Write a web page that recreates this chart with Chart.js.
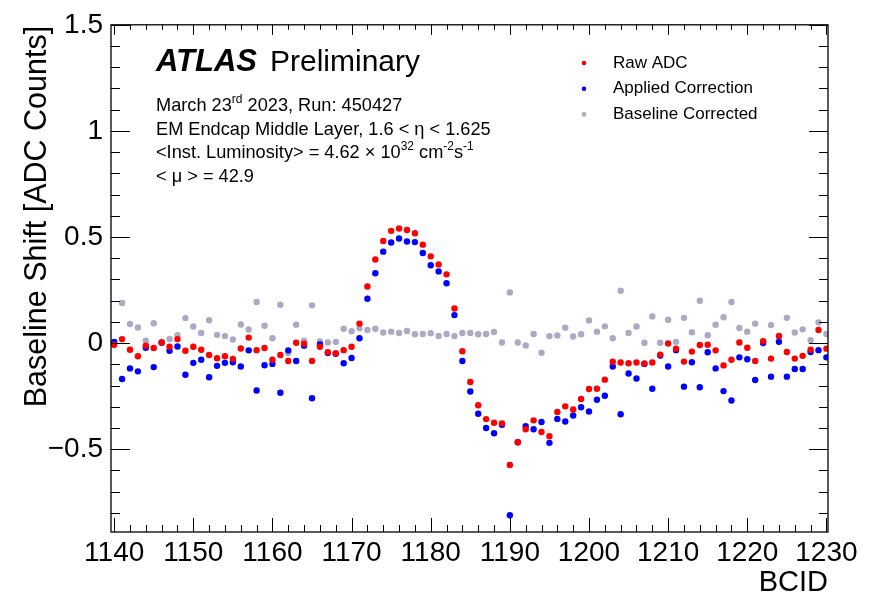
<!DOCTYPE html>
<html>
<head>
<meta charset="utf-8">
<script src="https://cdn.jsdelivr.net/npm/chart.js@4.4.0/dist/chart.umd.min.js"></script>
<style>
  html, body { margin: 0; background: #fff; }
  canvas { display: block; }
</style>
</head>
<body>
<canvas id="ch-baseline" width="872" height="600"></canvas>
<script>
const FONT = '"Liberation Sans", Arial, Helvetica, sans-serif';

// BCID (x)
const bcid = [
  1140, 1141, 1142, 1143, 1144, 1145, 1146, 1147, 1148, 1149,
  1150, 1151, 1152, 1153, 1154, 1155, 1156, 1157, 1158, 1159,
  1160, 1161, 1162, 1163, 1164, 1165, 1166, 1167, 1168, 1169,
  1170, 1171, 1172, 1173, 1174, 1175, 1176, 1177, 1178, 1179,
  1180, 1181, 1182, 1183, 1184, 1185, 1186, 1187, 1188, 1189,
  1190, 1191, 1192, 1193, 1194, 1195, 1196, 1197, 1198, 1199,
  1200, 1201, 1202, 1203, 1204, 1205, 1206, 1207, 1208, 1209,
  1210, 1211, 1212, 1213, 1214, 1215, 1216, 1217, 1218, 1219,
  1220, 1221, 1222, 1223, 1224, 1225, 1226, 1227, 1228, 1229,
  1230
];

// Raw ADC
const rawAdc = [
  -0.008, 0.019, -0.031, -0.062, -0.012, -0.023, 0.003, -0.017, 0.019, -0.036,
  -0.017, -0.031, -0.056, -0.071, -0.062, -0.074, -0.025, 0.026, -0.033, -0.023,
  -0.078, -0.056, -0.084, 0.002, -0.003, -0.084, -0.017, -0.043, -0.047, -0.033,
  -0.017, 0.092, 0.267, 0.394, 0.481, 0.529, 0.540, 0.533, 0.518, 0.464,
  0.409, 0.371, 0.324, 0.163, -0.038, -0.183, -0.293, -0.358, -0.375, -0.378,
  -0.574, -0.467, -0.406, -0.364, -0.419, -0.439, -0.324, -0.298, -0.313, -0.263,
  -0.216, -0.215, -0.172, -0.088, -0.091, -0.095, -0.091, -0.096, -0.091, -0.054,
  -0.002, -0.026, -0.087, -0.040, -0.009, -0.008, -0.034, -0.105, -0.078, 0.003,
  -0.022, -0.084, 0.009, -0.073, 0.034, -0.042, -0.073, -0.060, -0.031, 0.062,
  -0.026
];

// Applied Correction
const appliedCorr = [
  0.005, -0.169, -0.119, -0.133, -0.022, -0.113, 0.002, -0.036, -0.016, -0.149,
  -0.093, -0.078, -0.161, -0.107, -0.093, -0.090, -0.110, -0.034, -0.223, -0.104,
  -0.098, -0.234, -0.034, -0.084, -0.012, -0.260, -0.006, -0.047, -0.050, -0.095,
  -0.070, 0.023, 0.209, 0.329, 0.431, 0.474, 0.493, 0.479, 0.476, 0.425,
  0.367, 0.338, 0.282, 0.132, -0.084, -0.228, -0.333, -0.400, -0.425, -0.385,
  -0.811, -0.467, -0.392, -0.406, -0.372, -0.470, -0.357, -0.369, -0.341, -0.302,
  -0.322, -0.267, -0.248, -0.110, -0.335, -0.143, -0.167, -0.098, -0.215, -0.058,
  -0.110, -0.033, -0.205, -0.090, -0.208, -0.043, -0.119, -0.226, -0.270, -0.067,
  -0.076, -0.174, 0.002, -0.158, 0.006, -0.158, -0.122, -0.122, -0.042, -0.033,
  -0.067
];

// Baseline Corrected
const baselineCorr = [
  0.000, 0.189, 0.090, 0.074, 0.012, 0.094, 0.005, 0.020, 0.037, 0.118,
  0.078, 0.048, 0.108, 0.039, 0.033, 0.017, 0.088, 0.064, 0.194, 0.082,
  0.023, 0.181, -0.047, 0.087, 0.012, 0.178, 0.008, 0.003, 0.006, 0.068,
  0.056, 0.070, 0.062, 0.068, 0.050, 0.054, 0.048, 0.057, 0.042, 0.043,
  0.047, 0.034, 0.043, 0.033, 0.048, 0.048, 0.042, 0.043, 0.053, 0.003,
  0.239, 0.003, -0.011, 0.043, -0.045, 0.033, 0.036, 0.073, 0.031, 0.042,
  0.107, 0.054, 0.079, 0.023, 0.247, 0.048, 0.078, 0.002, 0.126, 0.002,
  0.110, 0.006, 0.119, 0.051, 0.200, 0.037, 0.087, 0.122, 0.194, 0.071,
  0.054, 0.092, -0.002, 0.085, 0.030, 0.119, 0.050, 0.065, 0.014, 0.098,
  0.043
];

const xTicks = [1140, 1150, 1160, 1170, 1180, 1190, 1200, 1210, 1220, 1230];
const yTicks = [-0.5, 0, 0.5, 1, 1.5];

const seriesNames  = ['Raw ADC', 'Applied Correction', 'Baseline Corrected'];
const seriesColors = ['#ff0000', '#0000ff', '#aba9c3'];
const yTitle = 'Baseline Shift [ADC Counts]';

// text lines; segments with sup:true are superscripts
const infoLines = [
  [{ t: 'March 23' }, { t: 'rd', sup: true }, { t: ' 2023, Run: 450427' }],
  [{ t: 'EM Endcap Middle Layer, 1.6 < \u03b7 < 1.625' }],
  [{ t: '<Inst. Luminosity> = 4.62 \u00d7 10' }, { t: '32', sup: true }, { t: ' cm' }, { t: '-2', sup: true }, { t: 's' }, { t: '-1', sup: true }],
  [{ t: '< \u03bc > = 42.9' }],
];

function pts(vals) {
  return bcid.map((b, i) => ({ x: b, y: vals[i] }));
}

function fmtY(v) {
  return v < 0 ? '\u2212' + Math.abs(v) : String(v);
}

function drawRich(ctx, segs, x, y, size) {
  let cx = x;
  segs.forEach(s => {
    if (s.sup) {
      ctx.font = `${Math.round(size * 0.65)}px ${FONT}`;
      ctx.fillText(s.t, cx, y - size * 0.42);
    } else {
      ctx.font = `${size}px ${FONT}`;
      ctx.fillText(s.t, cx, y);
    }
    cx += ctx.measureText(s.t).width;
  });
}

// ROOT style frame: box, inward ticks, legend and labels
const rootFrame = {
  id: 'rootFrame',
  afterDraw(chart) {
    const { ctx, chartArea: a, scales: { x, y } } = chart;
    ctx.save();
    ctx.strokeStyle = '#000';
    ctx.lineWidth = 1.3;
    ctx.strokeRect(a.left, a.top, a.right - a.left, a.bottom - a.top);

    ctx.beginPath();
    // x ticks, minor every 2
    for (let v = 1140; v <= 1230; v += 2) {
      const px = Math.round(x.getPixelForValue(v)) + 0.5;
      const major = v % 10 === 0;
      const lb = major ? 14 : 7;
      const lt = major ? 10 : 5;
      ctx.moveTo(px, a.bottom); ctx.lineTo(px, a.bottom - lb);
      ctx.moveTo(px, a.top); ctx.lineTo(px, a.top + lt);
    }
    // y ticks, minor every 0.1
    for (let k = -8; k <= 15; k++) {
      const py = Math.round(y.getPixelForValue(k / 10)) + 0.5;
      const l = k % 5 === 0 ? 19 : 9;
      ctx.moveTo(a.left, py); ctx.lineTo(a.left + l, py);
      ctx.moveTo(a.right, py); ctx.lineTo(a.right - l, py);
    }
    ctx.lineWidth = 1;
    ctx.stroke();

    // y axis title, right-aligned to the top of the frame
    ctx.save();
    ctx.translate(46, a.top + 1);
    ctx.rotate(-Math.PI / 2);
    ctx.textAlign = 'right';
    ctx.textBaseline = 'alphabetic';
    ctx.fillStyle = '#000';
    ctx.font = `30.5px ${FONT}`;
    ctx.fillText(yTitle, 0, 0);
    ctx.restore();

    // legend
    ctx.textBaseline = 'middle';
    ctx.textAlign = 'left';
    ctx.font = `17px ${FONT}`;
    chart.data.datasets.forEach((d, i) => {
      const ly = 63 + i * 25.7;
      ctx.fillStyle = d.backgroundColor;
      ctx.beginPath();
      ctx.arc(584, ly, 2.3, 0, Math.PI * 2);
      ctx.fill();
      ctx.fillStyle = '#000';
      ctx.fillText(d.label, 613, ly);
    });

    // ATLAS label
    ctx.textBaseline = 'alphabetic';
    ctx.fillStyle = '#000';
    ctx.font = `bold italic 31px ${FONT}`;
    ctx.fillText('ATLAS', 156, 71);
    ctx.font = `30px ${FONT}`;
    ctx.fillText('Preliminary', 270, 71);

    const base = [111, 134.5, 158, 182];
    infoLines.forEach((segs, i) => drawRich(ctx, segs, 156, base[i], 18.2));
    ctx.restore();
  }
};

new Chart(document.getElementById('ch-baseline'), {
  type: 'scatter',
  data: {
    datasets: [
      { label: seriesNames[0], data: pts(rawAdc),       backgroundColor: seriesColors[0] },
      { label: seriesNames[1], data: pts(appliedCorr),  backgroundColor: seriesColors[1] },
      { label: seriesNames[2], data: pts(baselineCorr), backgroundColor: seriesColors[2] },
    ],
  },
  options: {
    responsive: false,
    animation: false,
    devicePixelRatio: 1,
    layout: { padding: { top: 16, right: 44, left: 0, bottom: 0 } },
    elements: { point: { radius: 3.2, borderWidth: 0, hoverRadius: 3.2 } },
    plugins: { legend: { display: false }, tooltip: { enabled: false } },
    scales: {
      x: {
        type: 'linear', min: 1139.6, max: 1230.2,
        afterBuildTicks: s => { s.ticks = xTicks.map(v => ({ value: v })); },
        afterFit: s => { s.height = 68; },
        grid: { display: false, drawTicks: false },
        border: { display: false },
        ticks: { font: { family: FONT, size: 28 }, color: '#000', padding: 4, maxRotation: 0, autoSkip: false, callback: v => String(v) },
        title: { display: true, text: 'BCID', align: 'end', color: '#000', font: { family: FONT, size: 29 }, padding: { top: 0, bottom: 0 } },
      },
      y: {
        type: 'linear', min: -0.89, max: 1.5,
        afterBuildTicks: s => { s.ticks = yTicks.map(v => ({ value: v })); },
        afterFit: s => { s.width = 111; },
        grid: { display: false, drawTicks: false },
        border: { display: false },
        ticks: { font: { family: FONT, size: 28 }, color: '#000', padding: 8, callback: v => fmtY(v) },
        title: { display: false },
      },
    },
  },
  plugins: [rootFrame],
});
</script>
</body>
</html>
